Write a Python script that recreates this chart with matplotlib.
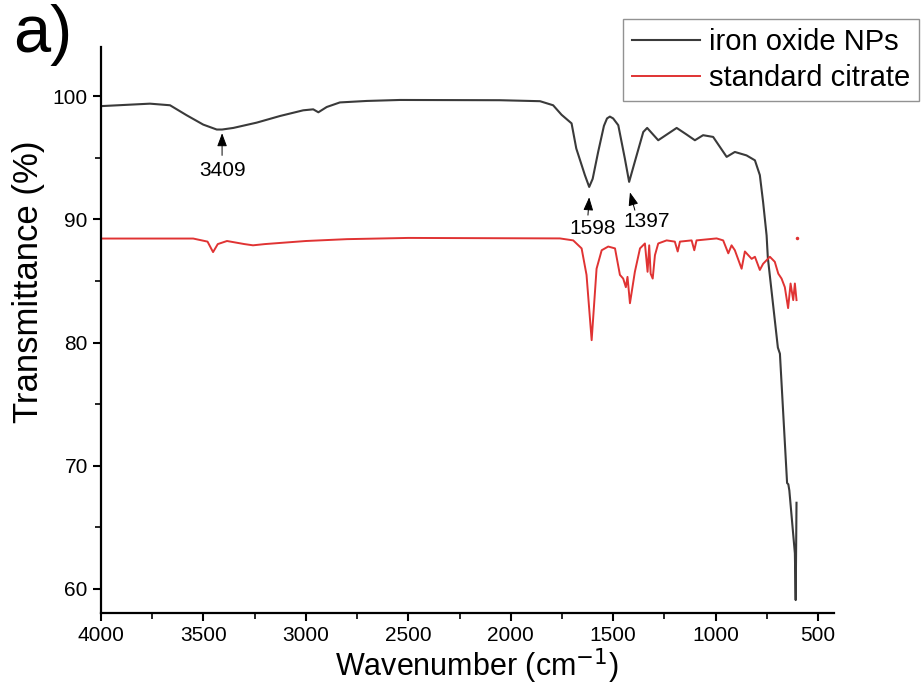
import numpy as np
import matplotlib
matplotlib.use("Agg")
import matplotlib.pyplot as plt
from matplotlib.ticker import MultipleLocator

plt.rcParams['font.family'] = ['Liberation Sans', 'DejaVu Sans']

# iron oxide NPs spectrum (wavenumber, transmittance %)
iron_wn = [4000, 3761, 3663, 3582, 3501, 3435, 3409, 3354, 3240, 3126, 3013, 2964, 2939,
           2898, 2834, 2703, 2541, 2053, 1857, 1793, 1752, 1703, 1680, 1638, 1617, 1600,
           1573, 1545, 1530, 1516, 1500, 1475, 1443, 1422, 1394, 1353, 1334, 1280, 1190,
           1142, 1101, 1061, 1012, 946, 906, 849, 808, 784, 768, 751, 745, 696, 686, 651,
           645, 640, 613, 609, 605]
iron_t = [99.2, 99.4, 99.27, 98.46, 97.7, 97.3, 97.3, 97.43, 97.86, 98.4, 98.86, 98.94,
          98.7, 99.13, 99.5, 99.62, 99.7, 99.68, 99.6, 99.27, 98.5, 97.8, 95.76, 93.6,
          92.64, 93.3, 95.5, 97.6, 98.2, 98.35, 98.2, 97.65, 94.95, 93.05, 94.7, 97.1,
          97.43, 96.43, 97.43, 96.9, 96.43, 96.84, 96.7, 95.08, 95.48, 95.2, 94.8, 93.6,
          91.4, 88.7, 86.9, 79.6, 79.1, 68.6, 68.5, 68.0, 62.9, 59.1, 67.0]

# standard citrate spectrum
cit_wn = [4000, 3550, 3480, 3453, 3430, 3385, 3300, 3258, 3200, 3000, 2800, 2500, 1760,
          1695, 1654, 1630, 1605, 1581, 1556, 1524, 1491, 1467, 1451, 1438, 1430, 1418,
          1394, 1369, 1345, 1332, 1324, 1317, 1307, 1296, 1280, 1239, 1199, 1185, 1174,
          1117, 1104, 1093, 995, 963, 938, 922, 906, 873, 857, 824, 808, 784, 768, 735,
          711, 694, 678, 662, 646, 634, 621, 613, 605, 604, 603]
cit_t = [88.45, 88.45, 88.2, 87.35, 88.0, 88.25, 88.0, 87.9, 88.0, 88.25, 88.4, 88.5,
         88.46, 88.3, 87.65, 85.5, 80.2, 86.0, 87.5, 87.8, 87.65, 85.5, 85.2, 84.5, 85.34,
         83.2, 85.75, 87.65, 88.05, 85.75, 87.9, 85.6, 85.2, 87.1, 88.05, 88.3, 88.2,
         87.4, 88.2, 88.3, 87.5, 88.3, 88.46, 88.3, 87.25, 87.9, 87.5, 86.0, 87.4, 86.8,
         86.97, 85.9, 86.4, 86.97, 86.56, 85.6, 85.2, 84.5, 82.8, 84.8, 83.45, 84.8,
         83.45, np.nan, 88.46]

x_ticks = [4000, 3500, 3000, 2500, 2000, 1500, 1000, 500]
y_ticks = [60, 70, 80, 90, 100]

# peak annotations: label, arrow tip (wn, T), arrow tail (wn, T), text centre (wn, T)
peak_labels = ["3409", "1598", "1397"]
peak_tip = [(3409, 97.0), (1617, 91.8), (1418, 92.2)]
peak_tail = [(3409, 95.2), (1623, 90.35), (1394, 90.75)]
peak_text = [(3409, 94.0), (1598, 89.3), (1335, 89.8)]

fig = plt.figure(figsize=(9.22, 6.93), dpi=100)
ax = fig.add_axes([101/922, 1-613/693, (834-101)/922, (613-47)/693])

ax.plot(iron_wn, iron_t, color='#3a3a3a', lw=1.5, label='iron oxide NPs')
ax.plot(cit_wn, cit_t, color='#e03333', lw=1.4, label='standard citrate')
ax.plot([603], [88.5], 'o', color='#e03333', ms=1.5)

ax.set_xlim(4000, 422)
ax.set_ylim(58.05, 104)
ax.set_xticks(x_ticks)
ax.set_yticks(y_ticks)
ax.xaxis.set_minor_locator(MultipleLocator(250))
ax.yaxis.set_minor_locator(MultipleLocator(5))
ax.tick_params(axis='both', which='major', direction='out', length=6, width=1.5,
               labelsize=15)
ax.tick_params(axis='both', which='minor', direction='out', length=4, width=1.2)
for s in ['top', 'right']:
    ax.spines[s].set_visible(False)
for s in ['left', 'bottom']:
    ax.spines[s].set_linewidth(1.6)

ax.set_xlabel('Wavenumber (cm$^{-1}$)', fontsize=22)
ax.set_ylabel('Transmittance (%)', fontsize=25)
ax.xaxis.set_label_coords((477-101)/733, (613-646)/566)
ax.yaxis.set_label_coords((45-101)/733, (613-282)/566)

for lab, tip, tail, txt in zip(peak_labels, peak_tip, peak_tail, peak_text):
    ax.annotate('', xy=tip, xytext=tail,
                arrowprops=dict(arrowstyle='-|>,head_length=0.8,head_width=0.3',
                                color='black', lw=0.7,
                                mutation_scale=10, shrinkA=0, shrinkB=0))
    ax.text(txt[0], txt[1], lab, ha='center', va='center', fontsize=15)

leg = ax.legend(loc='upper right', bbox_to_anchor=(919/922, 1-19/693),
                bbox_transform=fig.transFigure, fontsize=21, frameon=True,
                fancybox=False, edgecolor='#777777', handlelength=2.35,
                handletextpad=0.3, borderpad=0.3, labelspacing=0.28,
                borderaxespad=0)
leg.get_frame().set_linewidth(1.0)

fig.text(13/922, 1-35/693, 'a)', fontsize=48, va='center', ha='left')

fig.savefig('out.png', dpi=100)
